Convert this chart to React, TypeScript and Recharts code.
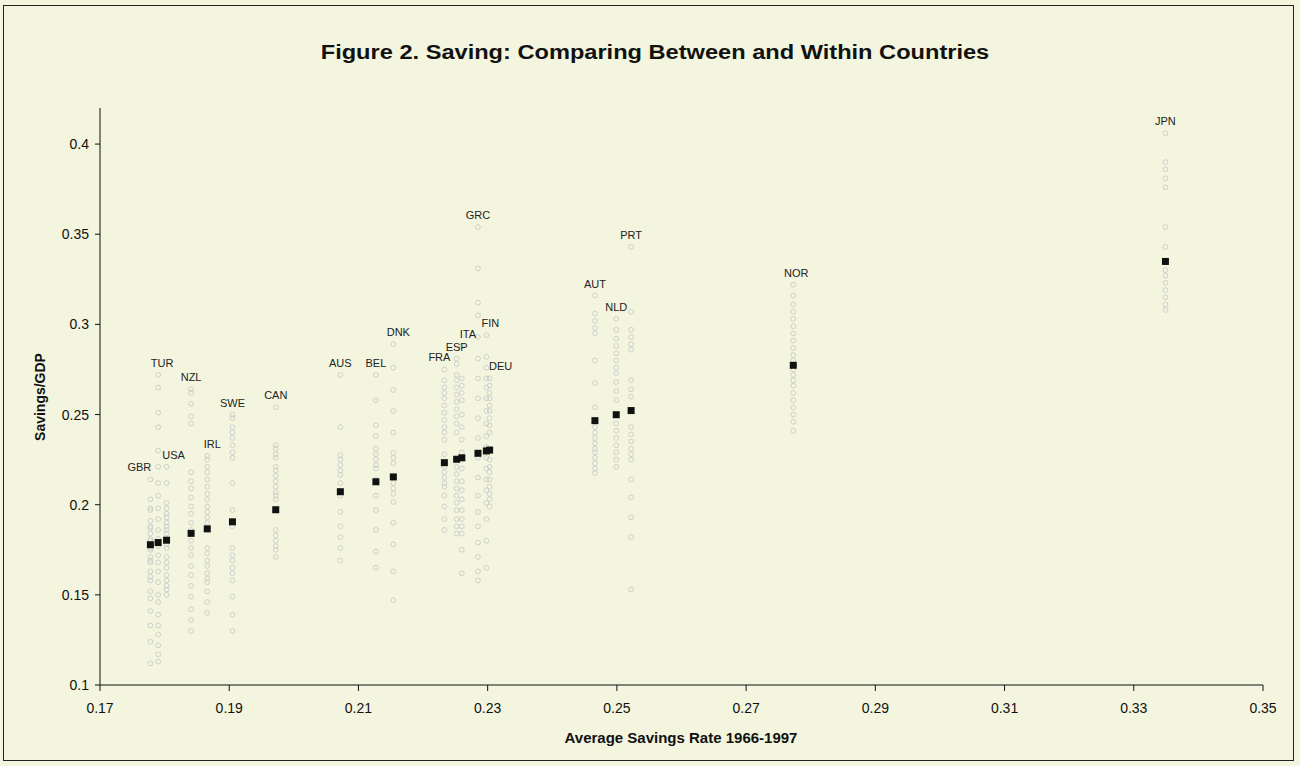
import React from "react";
import { ScatterChart, Scatter, XAxis, YAxis } from "recharts";

// country codes, in order of their average savings rate
const countryCodes = [
  "GBR", "TUR", "USA", "NZL", "IRL", "SWE", "CAN", "AUS", "BEL", "DNK",
  "FRA", "ESP", "ITA", "GRC", "FIN", "DEU", "AUT", "NLD", "PRT", "NOR", "JPN",
];

// average savings rate 1966-1997 (x position and black marker)
const countryAverages = [
  0.1778, 0.179, 0.1803, 0.1841, 0.1866, 0.1905, 0.1972, 0.2072, 0.2127, 0.2154,
  0.2233, 0.2252, 0.226, 0.2285, 0.2298, 0.2303, 0.2466, 0.2499, 0.2522, 0.2773, 0.3349,
];

// yearly savings/GDP
const gbrYears = [0.214, 0.203, 0.198, 0.197, 0.191, 0.188, 0.187, 0.184, 0.181, 0.18, 0.178, 0.176, 0.175, 0.171, 0.169, 0.168, 0.163, 0.16, 0.158, 0.152, 0.148, 0.141, 0.133, 0.124, 0.112];
const turYears = [0.272, 0.265, 0.251, 0.243, 0.23, 0.221, 0.212, 0.205, 0.198, 0.192, 0.186, 0.181, 0.177, 0.172, 0.168, 0.163, 0.157, 0.15, 0.146, 0.139, 0.133, 0.128, 0.122, 0.117, 0.113];
const usaYears = [0.221, 0.212, 0.201, 0.198, 0.195, 0.193, 0.19, 0.188, 0.186, 0.184, 0.181, 0.178, 0.176, 0.171, 0.168, 0.165, 0.161, 0.158, 0.155, 0.153, 0.15];
const nzlYears = [0.264, 0.262, 0.256, 0.249, 0.245, 0.218, 0.213, 0.209, 0.204, 0.199, 0.195, 0.19, 0.186, 0.18, 0.176, 0.172, 0.166, 0.161, 0.155, 0.149, 0.142, 0.136, 0.13];
const irlYears = [0.227, 0.225, 0.221, 0.218, 0.214, 0.21, 0.206, 0.203, 0.199, 0.196, 0.193, 0.19, 0.176, 0.173, 0.169, 0.166, 0.162, 0.159, 0.157, 0.152, 0.146, 0.14];
const sweYears = [0.25, 0.248, 0.243, 0.24, 0.237, 0.233, 0.229, 0.226, 0.212, 0.197, 0.188, 0.176, 0.172, 0.169, 0.165, 0.162, 0.158, 0.149, 0.139, 0.13];
const canYears = [0.254, 0.233, 0.231, 0.228, 0.226, 0.221, 0.219, 0.216, 0.213, 0.21, 0.207, 0.205, 0.203, 0.186, 0.183, 0.18, 0.177, 0.175, 0.171];
const ausYears = [0.272, 0.243, 0.2275, 0.225, 0.222, 0.219, 0.2165, 0.212, 0.205, 0.196, 0.188, 0.182, 0.176, 0.169];
const belYears = [0.272, 0.258, 0.244, 0.238, 0.231, 0.228, 0.225, 0.222, 0.22, 0.214, 0.205, 0.197, 0.186, 0.174, 0.165];
const dnkYears = [0.289, 0.276, 0.2636, 0.252, 0.24, 0.2287, 0.226, 0.223, 0.212, 0.209, 0.206, 0.2015, 0.19, 0.178, 0.163, 0.147];
const fraYears = [0.275, 0.269, 0.265, 0.262, 0.259, 0.255, 0.251, 0.247, 0.243, 0.24, 0.236, 0.228, 0.221, 0.218, 0.215, 0.212, 0.21, 0.205, 0.199, 0.192, 0.186];
const espYears = [0.281, 0.278, 0.272, 0.269, 0.265, 0.261, 0.257, 0.253, 0.249, 0.245, 0.24, 0.225, 0.221, 0.217, 0.213, 0.209, 0.205, 0.201, 0.197, 0.192, 0.188, 0.184];
const itaYears = [0.288, 0.27, 0.266, 0.262, 0.258, 0.25, 0.243, 0.236, 0.229, 0.22, 0.213, 0.208, 0.203, 0.197, 0.192, 0.188, 0.184, 0.175, 0.162];
const grcYears = [0.354, 0.331, 0.312, 0.305, 0.293, 0.281, 0.27, 0.259, 0.248, 0.237, 0.226, 0.215, 0.205, 0.196, 0.188, 0.179, 0.171, 0.163, 0.158];
const finYears = [0.294, 0.282, 0.276, 0.27, 0.265, 0.259, 0.252, 0.245, 0.238, 0.232, 0.226, 0.22, 0.214, 0.208, 0.201, 0.192, 0.18, 0.165];
const deuYears = [0.27, 0.266, 0.262, 0.259, 0.255, 0.252, 0.248, 0.244, 0.24, 0.225, 0.221, 0.218, 0.214, 0.21, 0.206, 0.203, 0.199];
const autYears = [0.316, 0.306, 0.302, 0.298, 0.295, 0.28, 0.2675, 0.254, 0.243, 0.24, 0.237, 0.234, 0.231, 0.229, 0.226, 0.223, 0.22, 0.2175];
const nldYears = [0.303, 0.297, 0.292, 0.288, 0.284, 0.28, 0.276, 0.273, 0.268, 0.263, 0.258, 0.245, 0.241, 0.237, 0.233, 0.229, 0.225, 0.221];
const prtYears = [0.343, 0.307, 0.297, 0.293, 0.289, 0.286, 0.269, 0.264, 0.26, 0.243, 0.239, 0.235, 0.231, 0.228, 0.225, 0.214, 0.204, 0.193, 0.182, 0.153];
const norYears = [0.322, 0.316, 0.311, 0.307, 0.303, 0.299, 0.295, 0.291, 0.287, 0.283, 0.28, 0.275, 0.272, 0.269, 0.266, 0.262, 0.258, 0.254, 0.25, 0.246, 0.241];
const jpnYears = [0.406, 0.39, 0.386, 0.381, 0.376, 0.354, 0.343, 0.33, 0.327, 0.323, 0.319, 0.315, 0.311, 0.308];

const yearlyByCountry = [
  gbrYears, turYears, usaYears, nzlYears, irlYears, sweYears, canYears, ausYears, belYears, dnkYears,
  fraYears, espYears, itaYears, grcYears, finYears, deuYears, autYears, nldYears, prtYears, norYears, jpnYears,
];

const xTicks = [0.17, 0.19, 0.21, 0.23, 0.25, 0.27, 0.29, 0.31, 0.33, 0.35];
const yTicks = [0.1, 0.15, 0.2, 0.25, 0.3, 0.35, 0.4];

const yearPoints = countryCodes.flatMap((code, i) =>
  yearlyByCountry[i].map((v) => ({ x: countryAverages[i], y: v, code }))
);
const avgPoints = countryCodes.map((code, i) => ({
  x: countryAverages[i],
  y: countryAverages[i],
  code,
}));
const labelPoints = countryCodes.map((code, i) => ({
  x: countryAverages[i],
  y: Math.max(...yearlyByCountry[i]),
  code,
}));

const BG = "#f3f5de";
const FONT = "'Liberation Sans', Arial, sans-serif";

// hand nudges so crowded labels sit where the original placed them
const labelShift: Record<string, number> = {
  GBR: -11, TUR: 4, USA: 7, IRL: 5, DNK: 5, FRA: -5, ITA: 6, FIN: 4, DEU: 11, NOR: 3,
};

const YearDot = (props: any) => (
  <circle cx={props.cx} cy={props.cy} r={2.4} fill="none" stroke="#c6c6c6" strokeWidth={0.8} />
);

const AvgMark = (props: any) => (
  <rect x={props.cx - 3.5} y={props.cy - 3.5} width={7} height={7} fill="#111" />
);

const CodeLabel = (props: any) => (
  <text
    x={props.cx + (labelShift[props.payload.code] || 0)}
    y={props.cy - 8}
    textAnchor="middle"
    fontSize={11}
    fontFamily={FONT}
    fill="#222"
  >
    {props.payload.code}
  </text>
);

export default function App() {
  return (
    <div
      style={{
        position: "absolute",
        left: 0,
        top: 0,
        width: 1300,
        height: 766,
        background: BG,
        fontFamily: FONT,
      }}
    >
      <div
        style={{
          position: "absolute",
          left: 3,
          top: 5,
          width: 1289,
          height: 754,
          border: "1px solid #222",
        }}
      />
      <div
        style={{
          position: "absolute",
          left: 0,
          width: 1310,
          top: 41,
          textAlign: "center",
          fontSize: 20,
          fontWeight: "bold",
          color: "#111",
          transform: "scaleX(1.18)",
        }}
      >
        Figure 2. Saving: Comparing Between and Within Countries
      </div>
      <div
        style={{
          position: "absolute",
          left: 100,
          width: 1162,
          top: 729,
          textAlign: "center",
          fontSize: 15,
          fontWeight: "bold",
          color: "#111",
        }}
      >
        Average Savings Rate 1966-1997
      </div>
      <div
        style={{
          position: "absolute",
          left: 40,
          top: 397,
          fontSize: 14,
          fontWeight: "bold",
          color: "#111",
          transform: "translate(-50%, -50%) rotate(-90deg)",
          whiteSpace: "nowrap",
        }}
      >
        Savings/GDP
      </div>
      <div style={{ position: "absolute", left: 0, top: 0 }}>
        <ScatterChart
          width={1300}
          height={766}
          margin={{ top: 108, right: 37, bottom: 51, left: 40 }}
        >
          <XAxis
            type="number"
            dataKey="x"
            domain={[0.17, 0.35]}
            ticks={xTicks}
            height={30}
            tickSize={6}
            tickMargin={12}
            stroke="#111"
            tick={{ fill: "#111", fontSize: 14, fontFamily: FONT }}
          />
          <YAxis
            type="number"
            dataKey="y"
            domain={[0.1, 0.42]}
            ticks={yTicks}
            width={60}
            tickSize={5}
            tickMargin={6}
            stroke="#111"
            tick={{ fill: "#111", fontSize: 14, fontFamily: FONT }}
          />
          <Scatter data={yearPoints} shape={YearDot} isAnimationActive={false} />
          <Scatter data={avgPoints} shape={AvgMark} isAnimationActive={false} />
          <Scatter data={labelPoints} shape={CodeLabel} isAnimationActive={false} />
        </ScatterChart>
      </div>
    </div>
  );
}
